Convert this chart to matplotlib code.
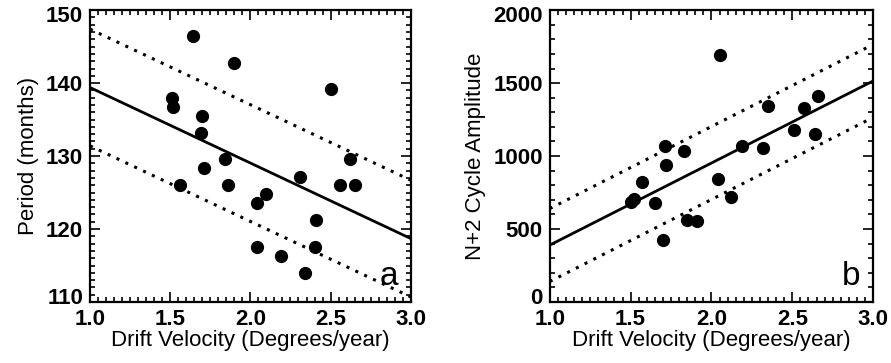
import matplotlib
matplotlib.use('Agg')
import matplotlib.pyplot as plt
import matplotlib.transforms as mtransforms
from matplotlib.ticker import MultipleLocator

plt.rcParams['font.family'] = ['Liberation Sans', 'DejaVu Sans']

# panel a: drift velocity vs period
vel_a = [1.64, 1.90, 2.50, 1.51, 1.52, 1.70, 1.69, 1.71, 1.84, 1.56, 1.86,
         2.04, 2.10, 2.31, 2.62, 2.56, 2.65, 2.41, 2.04, 2.40, 2.19, 2.34]
period = [146.4, 142.7, 139.2, 137.9, 136.7, 135.5, 133.2, 128.4, 129.6, 126.0, 126.0,
          123.6, 124.8, 127.2, 129.6, 126.0, 126.0, 121.2, 117.6, 117.6, 116.3, 114.0]

# panel b: drift velocity vs N+2 cycle amplitude
vel_b = [2.05, 1.50, 1.52, 1.57, 1.65, 1.71, 1.72, 1.70, 1.83, 1.85, 1.91,
         2.04, 2.12, 2.19, 2.32, 2.35, 2.51, 2.57, 2.64, 2.66]
amplitude = [1693, 685, 705, 823, 677, 1068, 939, 427, 1034, 564, 557,
             841, 723, 1068, 1057, 1341, 1182, 1330, 1148, 1409]

# tick values
xticks = [1.0, 1.5, 2.0, 2.5, 3.0]
yticks_a = [110, 120, 130, 140, 150]
yticks_b = [0, 500, 1000, 1500, 2000]

# fit lines (end points at x = 1.0 and 3.0) and their bands
fit_x = [1.0, 3.0]
fit_a = [139.4, 118.7]
band_a = 8.0
fit_b = [390, 1515]
band_b = 250


def style_axes(ax, yticks, yminor):
    ax.set_xlim(1.0, 3.0)
    ax.set_ylim(yticks[0], yticks[-1])
    ax.set_xticks(xticks, ['%.1f' % v for v in xticks])
    ax.set_yticks(yticks, [str(v) for v in yticks])
    ax.xaxis.set_minor_locator(MultipleLocator(0.05))
    ax.yaxis.set_minor_locator(MultipleLocator(yminor))
    ax.tick_params(which='both', direction='in', top=True, right=True, width=1.2)
    ax.tick_params(which='major', length=7, labelsize=16, pad=5)
    ax.tick_params(which='minor', length=3.5)
    for lab in ax.get_xticklabels() + ax.get_yticklabels():
        lab.set_fontweight('bold')
    # end labels sit a little inside the box, as in the original
    ylabs = ax.get_yticklabels()
    ylabs[0].set_transform(ylabs[0].get_transform() +
                           mtransforms.ScaledTranslation(0, 6 / 100, fig.dpi_scale_trans))
    ylabs[-1].set_transform(ylabs[-1].get_transform() +
                            mtransforms.ScaledTranslation(0, -4 / 100, fig.dpi_scale_trans))
    for s in ax.spines.values():
        s.set_linewidth(1.6)
    ax.set_xlabel('Drift Velocity (Degrees/year)', fontsize=16, labelpad=0)


fig = plt.figure(figsize=(8.91, 3.63), dpi=100)

ax1 = fig.add_axes([0.101, 0.168, 0.360, 0.804])
ax1.plot(fit_x, fit_a, color='black', lw=2)
ax1.plot(fit_x, [v + band_a for v in fit_a], color='black', lw=2.2, linestyle=(0, (1, 2.2)))
ax1.plot(fit_x, [v - band_a for v in fit_a], color='black', lw=2.2, linestyle=(0, (1, 2.2)))
ax1.plot(vel_a, period, 'o', color='black', markersize=8.5)
style_axes(ax1, yticks_a, 1)
ax1.set_ylabel('Period (months)', fontsize=16, labelpad=5)
ax1.text(0.96, 0.035, 'a', transform=ax1.transAxes, ha='right', va='bottom', fontsize=24)

ax2 = fig.add_axes([0.617, 0.168, 0.363, 0.804])
ax2.plot(fit_x, fit_b, color='black', lw=2)
ax2.plot(fit_x, [v + band_b for v in fit_b], color='black', lw=2.2, linestyle=(0, (1, 2.2)))
ax2.plot(fit_x, [v - band_b for v in fit_b], color='black', lw=2.2, linestyle=(0, (1, 2.2)))
ax2.plot(vel_b, amplitude, 'o', color='black', markersize=8.5)
style_axes(ax2, yticks_b, 100)
ax2.set_ylabel('N+2 Cycle Amplitude', fontsize=16, labelpad=5)
ax2.text(0.96, 0.035, 'b', transform=ax2.transAxes, ha='right', va='bottom', fontsize=24)

fig.savefig('out.png', dpi=100)
